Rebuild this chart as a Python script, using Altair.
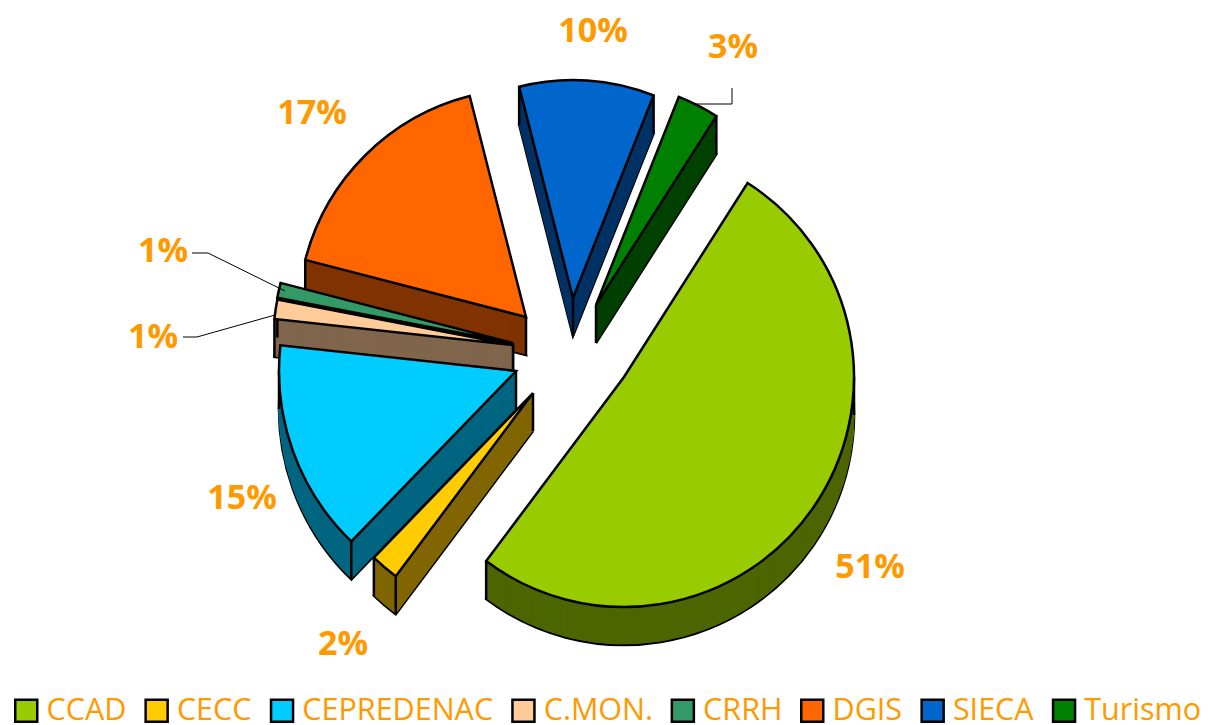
import math
import altair as alt
import pandas as pd

# values
slices = ["CCAD", "CECC", "CEPREDENAC", "C.MON.", "CRRH", "DGIS", "SIECA", "Turismo"]
shares = [51.2, 2.0, 14.5, 1.3, 1.0, 17.0, 10.0, 3.0]
labels = ["51%", "2%", "15%", "1%", "1%", "17%", "10%", "3%"]

# style and layout
tops = ["#99cc00", "#ffcc00", "#00ccff", "#ffcc99", "#339966", "#ff6600", "#0066cc", "#008000"]
walls = ["#4d6600", "#806600", "#006680", "#80664d", "#1a4d33", "#803300", "#003366", "#004000"]
cx = [624, 533, 516, 513, 513, 526, 573, 596]
cy = [377, 393, 371, 345, 343, 317, 298, 305]
rr = [230, 229, 237, 240, 240, 228, 218, 224]
label_x = [870, 343, 242, 153, 163, 312, 593, 733]
label_y = [568, 645, 499, 338, 252, 114, 32, 48]
draw_order = [7, 6, 5, 4, 3, 2, 1, 0]
START_DEG = 32.5
DEPTH = 38
ORANGE = "#ff9900"

X = alt.X("x:Q", scale=alt.Scale(domain=[8, 1201], nice=False, zero=False), axis=None)
Y = alt.Y("y:Q", scale=alt.Scale(domain=[725, 8], nice=False, zero=False), axis=None)
TH = alt.Theta("a:Q", scale=alt.Scale(domain=[0, 360], range=[0, 2 * math.pi]))
TH2 = alt.Theta2("b:Q")
RAD = alt.Radius("r:Q", scale=None)
legend = alt.Legend(
    orient="none", legendX=3, legendY=687, columns=8, title=None, padding=0,
    symbolType="square", symbolSize=484, symbolStrokeColor="black", symbolStrokeWidth=2.5,
    labelFont="Open Sans", labelFontSize=30.5, labelColor=ORANGE,
    labelOffset=5, columnPadding=13.4, symbolOpacity=1, labelLimit=400,
)
COLOR = alt.Fill("s:N", scale=alt.Scale(domain=slices, range=tops), sort=slices, legend=legend)

layers = []
cum = 0
angles = []
for v in shares:
    angles.append((START_DEG + cum, START_DEG + cum + v * 3.6))
    cum += v * 3.6


def row(i, d):
    return {"s": slices[i], "x": cx[i], "y": cy[i] + d, "a": angles[i][0], "b": angles[i][1], "r": rr[i]}


for i in draw_order:
    lo, hi = angles[i]
    layers.append(
        alt.Chart(pd.DataFrame([row(i, DEPTH)])).mark_arc(fill=walls[i], stroke="black", strokeWidth=2.5)
        .encode(x=X, y=Y, theta=TH, theta2=TH2, radius=RAD)
    )
    layers.append(
        alt.Chart(pd.DataFrame([row(i, d) for d in range(DEPTH - 1, -1, -1)]))
        .mark_arc(fill=walls[i], stroke=walls[i], strokeWidth=1)
        .encode(x=X, y=Y, theta=TH, theta2=TH2, radius=RAD)
    )
    edge_angles = [lo, hi] + [q for q in (90, 270, 450) if lo < q < hi]
    edges = [{"x": cx[i] + rr[i] * math.sin(math.radians(q)),
              "y": cy[i] - rr[i] * math.cos(math.radians(q))} for q in edge_angles]
    edges.append({"x": cx[i], "y": cy[i]})
    edf = pd.DataFrame(edges)
    edf["y2"] = edf["y"] + DEPTH
    layers.append(
        alt.Chart(edf).mark_rule(color="black", strokeWidth=2.5)
        .encode(x=X, y=Y, y2=alt.Y2("y2:Q"))
    )
    layers.append(
        alt.Chart(pd.DataFrame([row(i, 0)])).mark_arc(stroke="black", strokeWidth=2.5)
        .encode(x=X, y=Y, theta=TH, theta2=TH2, radius=RAD, fill=COLOR)
    )

leaders = pd.DataFrame({
    "k": [0, 0, 0, 1, 1, 1, 2, 2, 2],
    "o": [0, 1, 2] * 3,
    "x": [695, 732, 732, 192, 208, 285, 183, 197, 275],
    "y": [104, 104, 88, 253, 253, 291, 337, 337, 315],
})
layers.append(
    alt.Chart(leaders).mark_line(color="black", strokeWidth=1)
    .encode(x=X, y=Y, detail="k:N", order="o:Q")
)
layers.append(
    alt.Chart(pd.DataFrame({"t": labels, "x": label_x, "y": label_y}))
    .mark_text(font="Open Sans", fontWeight="bold", fontSize=34, color=ORANGE, align="center", baseline="middle")
    .encode(x=X, y=Y, text="t:N")
)

chart = (
    alt.layer(*layers)
    .properties(width=1193, height=717, padding=0, autosize=alt.AutoSizeParams(type="none"))
    .configure_view(stroke=None)
)
chart.save("out.html", embed_options={"renderer": "svg", "actions": False})
